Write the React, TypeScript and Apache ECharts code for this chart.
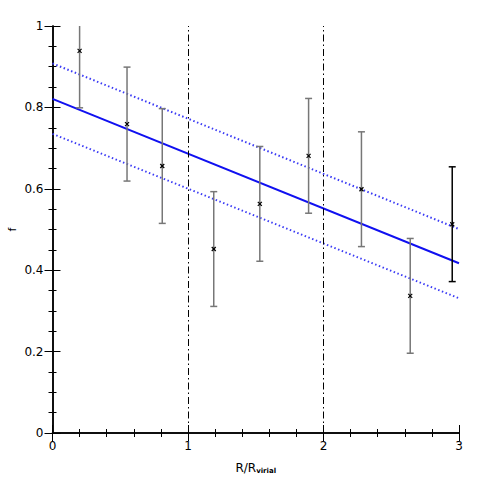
import React, { useEffect, useRef } from "react";
import * as echarts from "echarts";

const xValues = [0.2, 0.55, 0.81, 1.19, 1.53, 1.89, 2.28, 2.64, 2.95];
const yValues = [0.939, 0.759, 0.656, 0.452, 0.563, 0.681, 0.599, 0.337, 0.513];
const yErrors = [0.14, 0.14, 0.141, 0.141, 0.141, 0.141, 0.141, 0.141, 0.141];
const errColors = ["#777", "#777", "#777", "#777", "#777", "#777", "#777", "#777", "#000"];

const fitX = [0, 3];
const fitY = [0.821, 0.417];
const upperY = [0.908, 0.501];
const lowerY = [0.735, 0.331];

const vLines = [1, 2];
const xTicks = [0, 1, 2, 3];
const yTicks = [0, 0.2, 0.4, 0.6, 0.8, 1];

export default function App() {
  const ref = useRef<HTMLDivElement>(null);
  useEffect(() => {
    if (!ref.current) return;
    const chart = echarts.init(ref.current, null, { renderer: "svg" });
    const errData = xValues.map((x, i) => [x, yValues[i] - yErrors[i], yValues[i] + yErrors[i], i]);
    const ptData = xValues.map((x, i) => [x, yValues[i]]);
    const font = "DejaVu Sans, Verdana, sans-serif";
    const axisCommon = {
      type: "value" as const,
      axisLine: { show: true, lineStyle: { color: "#000", width: 1.5 } },
      axisTick: { show: true, inside: true, length: 8, lineStyle: { color: "#000", width: 1 } },
      minorTick: { show: true, length: 4, lineStyle: { color: "#000", width: 1 } },
      splitLine: { show: false },
    };
    chart.setOption({
      animation: false,
      backgroundColor: "#fff",
      grid: { left: 52.5, right: 26, top: 26, bottom: 52, containLabel: false, outerBoundsMode: "none" },
      xAxis: [
        {
          ...axisCommon,
          min: 0,
          max: 3,
          interval: 1,
          minorTick: { ...axisCommon.minorTick, splitNumber: 5 },
          axisLabel: {
            color: "#000",
            fontSize: 12,
            fontFamily: font,
            margin: 7,
            formatter: (v: number) => (xTicks.includes(v) ? String(v) : ""),
          },
          name: "R/R{sub|virial}",
          nameLocation: "middle",
          nameGap: 28,
          nameMoveOverlap: false,
          nameTextStyle: {
            color: "#000",
            fontSize: 12,
            fontFamily: font,
            rich: { sub: { fontSize: 7, fontWeight: "bold", verticalAlign: "bottom", padding: [6, 0, 0, 0], fontFamily: font } },
          },
        },
        {
          ...axisCommon,
          position: "top",
          min: 0,
          max: 3,
          interval: 1,
          minorTick: { ...axisCommon.minorTick, splitNumber: 5 },
          axisLabel: { show: false },
        },
      ],
      yAxis: [
        {
          ...axisCommon,
          min: 0,
          max: 1,
          interval: 0.2,
          minorTick: { ...axisCommon.minorTick, splitNumber: 4 },
          axisLabel: {
            color: "#000",
            fontSize: 12,
            fontFamily: font,
            margin: 9,
            formatter: (v: number) => {
              const t = yTicks.find((y) => Math.abs(y - v) < 1e-6);
              return t === undefined ? "" : String(Math.round(t * 10) / 10);
            },
          },
          name: "f",
          nameLocation: "middle",
          nameGap: 35,
          nameMoveOverlap: false,
          nameRotate: 90,
          nameTextStyle: { color: "#000", fontSize: 11, fontFamily: font },
        },
        {
          ...axisCommon,
          position: "right",
          min: 0,
          max: 1,
          interval: 0.2,
          minorTick: { ...axisCommon.minorTick, splitNumber: 4 },
          axisLabel: { show: false },
        },
      ],
      series: [
        {
          type: "line",
          data: fitX.map((x, i) => [x, fitY[i]]),
          symbol: "none",
          lineStyle: { color: "#1010f0", width: 2 },
          markLine: {
            silent: true,
            symbol: "none",
            label: { show: false },
            lineStyle: { color: "#000", width: 1, type: [7, 3, 1.5, 3] },
            data: vLines.map((v) => ({ xAxis: v })),
          },
          z: 3,
        },
        {
          type: "line",
          data: fitX.map((x, i) => [x, upperY[i]]),
          symbol: "none",
          lineStyle: { color: "#3a3af5", width: 2, type: [1.5, 2.5] },
          z: 3,
        },
        {
          type: "line",
          data: fitX.map((x, i) => [x, lowerY[i]]),
          symbol: "none",
          lineStyle: { color: "#3a3af5", width: 2, type: [1.5, 2.5] },
          z: 3,
        },
        {
          type: "custom",
          data: errData,
          clip: true,
          z: 4,
          renderItem: (params: any, api: any) => {
            const x = api.value(0);
            const lo = api.coord([x, api.value(1)]);
            const hi = api.coord([x, api.value(2)]);
            const color = errColors[api.value(3)];
            const w = 3.5;
            const style = { stroke: color, lineWidth: 1.5 };
            return {
              type: "group",
              children: [
                { type: "line", shape: { x1: lo[0], y1: lo[1], x2: hi[0], y2: hi[1] }, style },
                { type: "line", shape: { x1: lo[0] - w, y1: lo[1], x2: lo[0] + w, y2: lo[1] }, style },
                { type: "line", shape: { x1: hi[0] - w, y1: hi[1], x2: hi[0] + w, y2: hi[1] }, style },
              ],
            };
          },
        },
        {
          type: "custom",
          data: ptData,
          z: 5,
          renderItem: (params: any, api: any) => {
            const c = api.coord([api.value(0), api.value(1)]);
            const s = 2;
            const style = { stroke: "#000", lineWidth: 1.2 };
            return {
              type: "group",
              children: [
                { type: "line", shape: { x1: c[0] - s, y1: c[1] - s, x2: c[0] + s, y2: c[1] + s }, style },
                { type: "line", shape: { x1: c[0] - s, y1: c[1] + s, x2: c[0] + s, y2: c[1] - s }, style },
              ],
            };
          },
        },
      ],
    });
    return () => chart.dispose();
  }, []);
  return <div ref={ref} style={{ width: 485, height: 485, position: "absolute", left: 0, top: 0 }} />;
}
